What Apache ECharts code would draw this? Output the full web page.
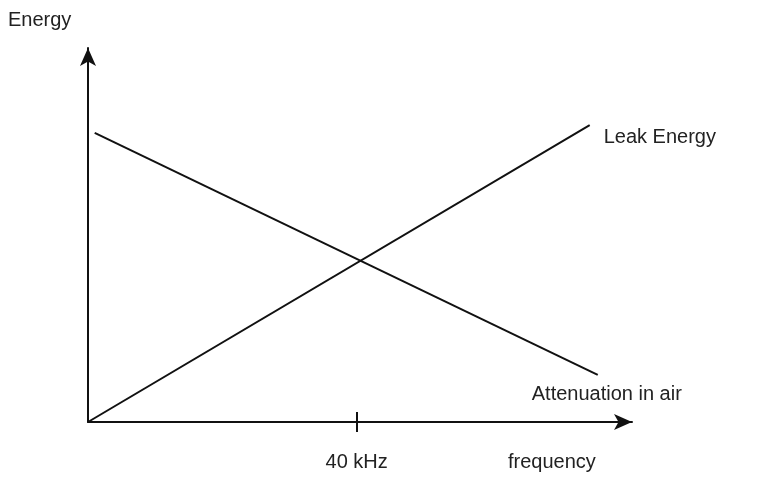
<!DOCTYPE html>
<html lang="en">
<head>
<meta charset="UTF-8">
<title>Energy vs frequency</title>
<script src="https://cdn.jsdelivr.net/npm/echarts@6/dist/echarts.min.js"></script>
</head>
<body style="margin:0">
<div id="main" style="width:757px;height:479px"></div>
<script>
// frequency (kHz-like units) and energy (relative)
var leakX = [0, 74.7];
var leakY = [0, 79.4];
var attenX = [1, 75.9];
var attenY = [77.3, 12.6];
var tickValues = [40];

function pairs(xs, ys) {
    return xs.map(function (x, i) { return [x, ys[i]]; });
}

var chart = echarts.init(document.getElementById('main'));
var font = 'Liberation Sans';

var option = {
    backgroundColor: '#fff',
    animation: false,
    grid: { left: 88, right: 125, top: 48, bottom: 57 },
    xAxis: {
        type: 'value', min: 0, max: 81,
        splitLine: { show: false },
        axisLine: { lineStyle: { color: '#111', width: 2 }, symbol: ['none', 'arrow'], symbolSize: [12, 18] },
        axisTick: { show: true, customValues: tickValues, length: 10, inside: true, lineStyle: { color: '#111', width: 2 } },
        axisLabel: { customValues: tickValues, formatter: '{value} kHz', color: '#222', fontSize: 20, fontFamily: font, margin: 30 }
    },
    yAxis: {
        type: 'value', min: 0, max: 100,
        splitLine: { show: false },
        axisLine: { show: true, lineStyle: { color: '#111', width: 2 }, symbol: ['none', 'arrow'], symbolSize: [12, 18] },
        axisTick: { show: false },
        axisLabel: { show: false }
    },
    graphic: [
        { type: 'line', shape: { x1: 357, y1: 422, x2: 357, y2: 432 }, style: { stroke: '#111', lineWidth: 2 } },
        { type: 'text', left: 8, top: 10, style: { text: 'Energy', fontSize: 20, fontFamily: font, fill: '#222' } },
        { type: 'text', left: 508, top: 452, style: { text: 'frequency', fontSize: 20, fontFamily: font, fill: '#222' } }
    ],
    series: [
        {
            type: 'line', data: pairs(leakX, leakY), symbol: 'none', silent: true,
            lineStyle: { color: '#111', width: 2 },
            endLabel: { show: true, formatter: 'Leak Energy', distance: 14, offset: [0, 12], color: '#222', fontSize: 20, fontFamily: font }
        },
        {
            type: 'line', data: pairs(attenX, attenY), symbol: 'none', silent: true,
            lineStyle: { color: '#111', width: 2 },
            endLabel: { show: true, formatter: 'Attenuation in air', distance: 0, offset: [-66, 20], color: '#222', fontSize: 20, fontFamily: font }
        }
    ]
};
chart.setOption(option);
</script>
</body>
</html>
